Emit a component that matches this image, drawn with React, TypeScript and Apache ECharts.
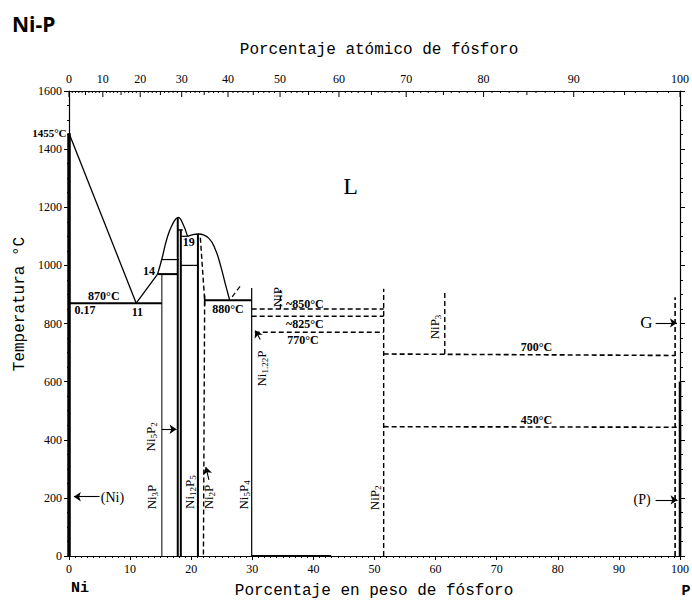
import React, { useEffect, useRef } from "react";
import * as echarts from "echarts";

// ---------- texts ----------
const TITLE = "Ni-P";
const TOP_TITLE = "Porcentaje atómico de fósforo";
const BOTTOM_TITLE = "Porcentaje en peso de fósforo";
const Y_TITLE = "Temperatura °C";
const LEFT_ELEMENT = "Ni";
const RIGHT_ELEMENT = "P";

// ---------- axes ----------
const WT_MIN = 0;
const WT_MAX = 100;
const WT_STEP = 10;
const T_MIN = 0;
const T_MAX = 1600;
const T_STEP = 200;
const atomicLabelTicks = [0, 10, 20, 30, 40, 50, 60, 70, 80, 90, 100];
const ATOMIC_MASS_NI = 58.693;
const ATOMIC_MASS_P = 30.974;

// ---------- solid phase boundaries (wt% P, °C) ----------
const niLiquidus = [[0, 1455], [11, 870]];
const ni3pLiquidus = [[11, 870], [14.5, 970]];
const eutectic870 = [[0, 870], [15.2, 870]];
const ni3pLine = [[15.2, 0], [15.2, 970]];
const peritectic970 = [[14.5, 970], [17.8, 970]];
const line1020 = [[15.2, 1020], [18.0, 1020]];
const ni5p2Dome = [[14.5, 970], [15.2, 1022], [16.0, 1090], [16.9, 1140], [17.9, 1165], [18.6, 1145], [19.4, 1100]];
const ni5p2Line = [[17.8, 0], [17.8, 1163]];
const ni12p5Line = [[18.3, 0], [18.3, 1122]];
const peritectic1122 = [[17.8, 1122], [18.6, 1122]];
const eutectic1100 = [[18.3, 1100], [19.4, 1100]];
const line1000 = [[18.3, 1000], [21.1, 1000]];
const ni2pDome = [[19.4, 1100], [20.3, 1106], [21.2, 1108], [22.9, 1093], [24.0, 1052], [24.8, 1000], [25.6, 935], [26.3, 880]];
const ni2pLine = [[21.1, 0], [21.1, 1108]];
const eutectic880 = [[22.2, 880], [29.9, 880]];
const eutectic880Tick = [[22.2, 862], [22.2, 897]];
const ni5p4Line = [[29.9, 0], [29.9, 922]];
const pureNi = [[0, 0], [0, 1455]];
const pureP = [[100, 0], [100, 600]];
const baseSegment = [[29.9, 0], [42.9, 0]];

// ---------- dashed boundaries ----------
const ni2pDashed = [[21.5, 1095], [22.2, 880], [22.0, 0]];
const nipLine = [[34.6, 850], [34.6, 915]];
const nip2Line = [[51.5, 0], [51.5, 920]];
const nip3Line = [[61.5, 695], [61.5, 915]];
const line850 = [[29.9, 850], [51.5, 850]];
const line825 = [[29.9, 825], [51.5, 825]];
const line770 = [[30.4, 770], [51.5, 770]];
const line700 = [[51.5, 695], [99.2, 690]];
const line450 = [[51.5, 445], [100, 443]];
const gasLine = [[99.2, 0], [99.2, 890]];
const hint880 = [[26.7, 892], [28.1, 930]];

// ---------- arrows ----------
const arrowNi = [[5.0, 204], [0.8, 204]];
const arrowP = [[96.0, 193], [99.6, 193]];
const arrowG = [[96.0, 802], [99.5, 802]];
const arrowNi5P2 = [[15.2, 436], [17.6, 436]];
const arrowNi2P = [[22.9, 262], [22.4, 306]];
const arrowNi122P = [[31.3, 745], [30.5, 776]];

// ---------- labels: [text, wt%, °C] ----------
const tempLabels: [string, number, number][] = [
  ["870°C", 5.7, 895],
  ["880°C", 26.0, 850],
  ["~850°C", 38.6, 867],
  ["~825°C", 38.6, 798],
  ["770°C", 38.3, 743],
  ["700°C", 76.5, 719],
  ["450°C", 76.5, 468],
];
const compLabels: [string, number, number][] = [
  ["0.17", 2.6, 847],
  ["11", 11.2, 840],
  ["14", 13.1, 981],
  ["19", 19.6, 1080],
];
const regionLabels: [string, number, number, number][] = [
  ["L", 46.1, 1273, 24],
  ["(Ni)", 7.1, 203, 14],
  ["(P)", 93.8, 193, 14],
  ["G", 94.5, 802, 17],
];
const meltLabel: [string, number, number] = ["1455°C", -0.4, 1455];
const phaseLabels: [string, number, number][] = [
  ["{n|Ni}{s|3}{n|P}", 13.5, 203],
  ["{n|Ni}{s|5}{n|P}{s|2}", 13.3, 410],
  ["{n|Ni}{s|12}{n|P}{s|5}", 19.8, 220],
  ["{n|Ni}{s|2}{n|P}", 22.9, 203],
  ["{n|Ni}{s|5}{n|P}{s|4}", 28.6, 210],
  ["{n|Ni}{s|1.22}{n|P}", 31.5, 645],
  ["{n|NiP}", 34.1, 891],
  ["{n|NiP}{s|3}", 59.9, 788],
  ["{n|NiP}{s|2}", 50.0, 200],
];

const atomicToWeight = (a: number) =>
  (a * ATOMIC_MASS_P) / (a * ATOMIC_MASS_P + (100 - a) * ATOMIC_MASS_NI) * 100;

const SERIF = '"Liberation Serif", "DejaVu Serif", serif';
const MONO = '"Liberation Mono", "DejaVu Sans Mono", monospace';

type Seg = { data: number[][]; width: number; dashed?: boolean; smooth?: boolean };

const segments: Seg[] = [
  { data: niLiquidus, width: 1.3 },
  { data: ni3pLiquidus, width: 1.3 },
  { data: eutectic870, width: 2 },
  { data: ni3pLine, width: 1 },
  { data: peritectic970, width: 2 },
  { data: line1020, width: 1.2 },
  { data: ni5p2Dome, width: 1.3, smooth: true },
  { data: ni5p2Line, width: 2 },
  { data: ni12p5Line, width: 2 },
  { data: peritectic1122, width: 1.5 },
  { data: eutectic1100, width: 1.2 },
  { data: line1000, width: 1.2 },
  { data: ni2pDome, width: 1.3, smooth: true },
  { data: ni2pLine, width: 2 },
  { data: eutectic880, width: 2 },
  { data: eutectic880Tick, width: 1.5 },
  { data: ni5p4Line, width: 1.2 },
  { data: pureNi, width: 3.5 },
  { data: pureP, width: 2.5 },
  { data: baseSegment, width: 2 },
  { data: ni2pDashed, width: 1.4, dashed: true },
  { data: nipLine, width: 1.4, dashed: true },
  { data: nip2Line, width: 1.4, dashed: true },
  { data: nip3Line, width: 1.4, dashed: true },
  { data: line850, width: 1.4, dashed: true },
  { data: line825, width: 1.4, dashed: true },
  { data: line770, width: 1.4, dashed: true },
  { data: line700, width: 1.6, dashed: true },
  { data: line450, width: 1.6, dashed: true },
  { data: gasLine, width: 1.6, dashed: true },
  { data: hint880, width: 1.2, dashed: true },
];

const arrows = [arrowNi, arrowP, arrowG, arrowNi5P2, arrowNi2P, arrowNi122P];

type LabelSpec = {
  text: string;
  x: number;
  y: number;
  rot?: boolean;
  font: string;
  align?: string;
  rich?: any;
};

const formulaRich = {
  n: { fontSize: 13, fontFamily: SERIF, fill: "#000", lineHeight: 14 },
  s: { fontSize: 9, fontFamily: SERIF, fill: "#000", lineHeight: 10, padding: [7, 0, 0, 0] },
};

const labelSpecs: LabelSpec[] = [
  ...tempLabels.map(([t, x, y]) => ({ text: t, x, y, font: `bold 12px ${SERIF}` })),
  ...compLabels.map(([t, x, y]) => ({ text: t, x, y, font: `bold 12px ${SERIF}` })),
  ...regionLabels.map(([t, x, y, s]) => ({ text: t, x, y, font: `${s}px ${SERIF}` })),
  { text: meltLabel[0], x: meltLabel[1], y: meltLabel[2], font: `bold 11px ${SERIF}`, align: "right" },
  ...phaseLabels.map(([t, x, y]) => ({ text: t, x, y, rot: true, font: `13px ${SERIF}`, rich: formulaRich })),
];

export default function App() {
  const ref = useRef<HTMLDivElement>(null);

  useEffect(() => {
    if (!ref.current) return;
    const chart = echarts.init(ref.current, undefined, { renderer: "svg" });

    const atomicTickData: number[][] = [];
    for (let a = 0; a <= 100; a++) atomicTickData.push([atomicToWeight(a), T_MAX, a]);

    const lineSeries = segments.map((s) => ({
      type: "line",
      data: s.data,
      symbol: "none",
      smooth: s.smooth ? 0.45 : false,
      clip: false,
      silent: true,
      z: 5,
      lineStyle: { color: "#000", width: s.width, type: s.dashed ? [5, 3] : "solid" },
    }));

    const option: any = {
      animation: false,
      backgroundColor: "#fff",
      title: {
        text: TITLE,
        left: 7,
        top: 8,
        textStyle: { fontFamily: '"Open Sans", Lato, sans-serif', fontWeight: "bold", fontSize: 21, color: "#000" },
      },
      grid: { left: 69, right: 7, top: 91, bottom: 45 },
      xAxis: [
        {
          type: "value",
          min: WT_MIN,
          max: WT_MAX,
          interval: WT_STEP,
          position: "bottom",
          axisLine: { onZero: false, lineStyle: { color: "#000", width: 1.2 } },
          axisTick: { show: true, inside: false, length: 4, lineStyle: { color: "#000" } },
          minorTick: { show: true, splitNumber: 10, length: 2, lineStyle: { color: "#000" } },
          axisLabel: { color: "#000", fontFamily: SERIF, fontSize: 12, margin: 7, formatter: (v: number) => String(v) },
          splitLine: { show: false },
        },
        {
          type: "value",
          min: WT_MIN,
          max: WT_MAX,
          position: "top",
          axisLine: { show: true, onZero: false, lineStyle: { color: "#000", width: 1.2 } },
          axisTick: { show: false },
          axisLabel: { show: false },
          splitLine: { show: false },
        },
      ],
      yAxis: [
        {
          type: "value",
          min: T_MIN,
          max: T_MAX,
          interval: T_STEP,
          position: "left",
          axisLine: { show: true, onZero: false, lineStyle: { color: "#000", width: 1.2 } },
          axisTick: { show: true, inside: false, length: 5, lineStyle: { color: "#000" } },
          minorTick: { show: true, splitNumber: 4, length: 2, lineStyle: { color: "#000" } },
          axisLabel: { color: "#000", fontFamily: SERIF, fontSize: 12, margin: 7, formatter: (v: number) => String(v) },
          splitLine: { show: false },
        },
        {
          type: "value",
          min: T_MIN,
          max: T_MAX,
          interval: T_STEP,
          position: "right",
          axisLine: { show: true, onZero: false, lineStyle: { color: "#000", width: 1.2 } },
          axisTick: { show: true, inside: false, length: 5, lineStyle: { color: "#000" } },
          minorTick: { show: true, splitNumber: 4, length: 3, lineStyle: { color: "#000" } },
          axisLabel: { show: false },
          splitLine: { show: false },
        },
      ],
      graphic: [
        {
          type: "text",
          x: 20,
          y: 304,
          rotation: Math.PI / 2,
          style: { text: Y_TITLE, font: `16px ${MONO}`, fill: "#000", align: "center", verticalAlign: "middle" },
        },
        {
          type: "text",
          x: 379,
          y: 50,
          style: { text: TOP_TITLE, font: `16px ${MONO}`, fill: "#000", align: "center", verticalAlign: "middle" },
        },
        {
          type: "text",
          x: 374,
          y: 591,
          style: { text: BOTTOM_TITLE, font: `16px ${MONO}`, fill: "#000", align: "center", verticalAlign: "middle" },
        },
        {
          type: "text",
          x: 80,
          y: 588,
          style: { text: LEFT_ELEMENT, font: `bold 15px ${MONO}`, fill: "#000", align: "center", verticalAlign: "middle" },
        },
        {
          type: "text",
          x: 686,
          y: 591,
          style: { text: RIGHT_ELEMENT, font: `bold 15px ${MONO}`, fill: "#000", align: "center", verticalAlign: "middle" },
        },
      ],
      series: [
        ...lineSeries,
        {
          type: "lines",
          coordinateSystem: "cartesian2d",
          xAxisIndex: 0,
          yAxisIndex: 0,
          silent: true,
          z: 6,
          symbol: ["none", "arrow"],
          symbolSize: 7,
          lineStyle: { color: "#000", width: 1.1, opacity: 1, curveness: 0 },
          data: arrows.map((c) => ({ coords: c })),
        },
        {
          type: "custom",
          silent: true,
          clip: false,
          z: 7,
          data: atomicTickData,
          renderItem: (params: any, api: any) => {
            const a = api.value(2);
            const p = api.coord([api.value(0), T_MAX]);
            const len = a % 10 === 0 ? 6 : a % 5 === 0 ? 4 : 2;
            const children: any[] = [
              {
                type: "line",
                shape: { x1: p[0], y1: p[1], x2: p[0], y2: p[1] + len },
                style: { stroke: "#000", lineWidth: 1 },
              },
            ];
            if (atomicLabelTicks.indexOf(a) >= 0) {
              children.push({
                type: "text",
                x: p[0],
                y: p[1] - 6,
                style: { text: String(a), fill: "#000", font: `12px ${SERIF}`, align: "center", verticalAlign: "bottom" },
              });
            }
            return { type: "group", children };
          },
        },
        {
          type: "custom",
          silent: true,
          clip: false,
          z: 8,
          data: labelSpecs.map((l) => [l.x, l.y]),
          renderItem: (params: any, api: any) => {
            const l = labelSpecs[params.dataIndex];
            const p = api.coord([l.x, l.y]);
            return {
              type: "text",
              x: p[0],
              y: p[1],
              rotation: l.rot ? Math.PI / 2 : 0,
              style: {
                text: l.text,
                font: l.font,
                fill: "#000",
                align: l.align || "center",
                verticalAlign: "middle",
                rich: l.rich,
              },
            };
          },
        },
      ],
    };

    chart.setOption(option);
    return () => chart.dispose();
  }, []);

  return (
    <div
      ref={ref}
      style={{ position: "fixed", left: 0, top: 0, width: 692, height: 601, background: "#fff" }}
    />
  );
}
